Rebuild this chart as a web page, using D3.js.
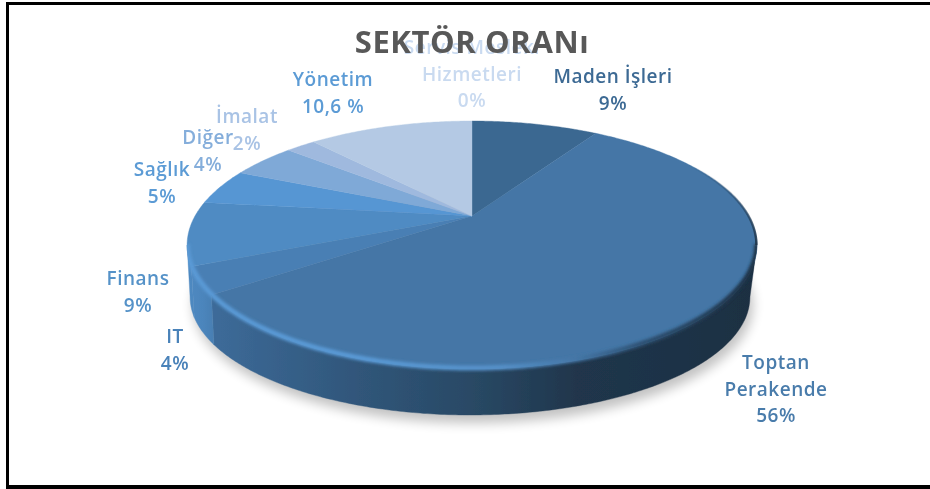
<!DOCTYPE html>
<html>
<head>
<meta charset="utf-8">
<script src="https://cdn.jsdelivr.net/npm/d3@7/dist/d3.min.js"></script>
<style>
  html, body { margin: 0; padding: 0; background: #fff; }
  svg { display: block; }
  text { font-family: "Open Sans", sans-serif; font-weight: 600; text-anchor: middle; }
</style>
</head>
<body>
<svg id="chart" width="930" height="489"></svg>
<script>
const chartTitle = 'SEKTÖR ORANı';
const sectors = ['Maden İşleri', 'Toptan Perakende', 'IT', 'Finans', 'Sağlık', 'Diğer', 'İmalat', 'Yönetim', 'Servis Mesleki Hizmetleri'];
// printed labels
const percentLabels = ['9%', '56%', '4%', '9%', '5%', '4%', '2%', '10,6 %', '0%'];
// slice widths as they appear in the picture (the printed ones do not quite match)
const shares = [9, 56.1, 3.5, 8.3, 4.7, 4.6, 2.1, 11.7, 0];

const sliceColors = ['#3b6791', '#4476a6', '#4a7fb4', '#4f8bc3', '#5796d3', '#7fa9d7', '#9fb9de', '#b4c9e4', '#ccdcf0'];
const labelColors = ['#3d6a94', '#4a7cab', '#4a82b9', '#5592c8', '#5b9bd5', '#85aedb', '#a9c3e5', '#5b9bd5', '#c9daf0'];

// label lines + baseline of first line, set by hand like the original
const labelLayout = [
  { lines: ['Maden İşleri'], x: 613, y: 83 },
  { lines: ['Toptan', 'Perakende'], x: 776, y: 369 },
  { lines: ['IT'], x: 175, y: 343 },
  { lines: ['Finans'], x: 138, y: 285 },
  { lines: ['Sağlık'], x: 162, y: 176 },
  { lines: ['Diğer'], x: 208, y: 144 },
  { lines: ['İmalat'], x: 247, y: 123 },
  { lines: ['Yönetim'], x: 333, y: 86 },
  { lines: ['Servis Mesleki', 'Hizmetleri'], x: 472, y: 54 }
];
const lineStep = 26.5;

const svg = d3.select('#chart');
const defs = svg.append('defs');

defs.append('filter').attr('id', 'soft')
  .attr('x', '-2%').attr('y', '-2%').attr('width', '104%').attr('height', '104%')
  .append('feGaussianBlur').attr('stdDeviation', 0.45);
defs.append('filter').attr('id', 'shadowBlur')
  .attr('x', '-10%').attr('y', '-20%').attr('width', '120%').attr('height', '140%')
  .append('feGaussianBlur').attr('stdDeviation', 6);
defs.append('filter').attr('id', 'bevelBlur')
  .attr('x', '-10%').attr('y', '-20%').attr('width', '120%').attr('height', '140%')
  .append('feGaussianBlur').attr('stdDeviation', 1.8);

function hGrad(id, stops) {
  const g = defs.append('linearGradient').attr('id', id)
    .attr('gradientUnits', 'userSpaceOnUse')
    .attr('x1', 186).attr('x2', 759).attr('y1', 0).attr('y2', 0);
  stops.forEach(s => g.append('stop').attr('offset', s[0]).attr('stop-color', s[1]));
}
hGrad('sideToptan', [[0, '#3f70a0'], [0.1, '#3a6692'], [0.3, '#30567a'], [0.5, '#294965'], [0.68, '#20364c'], [1, '#1c2f42']]);
hGrad('sideRest', [[0, '#4f8ac2'], [0.03, '#4c85bc'], [0.06, '#447aac']]);
hGrad('bevel', [[0, '#5a9ad6'], [0.3, '#5a9ad6'], [0.55, '#5590c8'], [0.68, '#4476a6'], [0.8, '#2c4f70'], [1, '#1c2f42']]);

// fades the dark rim in along the upper right edge
const fade = defs.append('linearGradient').attr('id', 'rimFade')
  .attr('gradientUnits', 'userSpaceOnUse')
  .attr('x1', 0).attr('x2', 0).attr('y1', 165).attr('y2', 245);
fade.append('stop').attr('offset', 0).attr('stop-color', '#1c2f42').attr('stop-opacity', 0);
fade.append('stop').attr('offset', 1).attr('stop-color', '#1c2f42').attr('stop-opacity', 0.85);

// the disc is seen in perspective: hub sits above the middle of the ellipse
const hubX = 472, hubY = 216;
const persp = -0.234, scaleX = 277, scaleY = 117.2;
function topPoint(a) {
  const X = Math.sin(a), Y = -Math.cos(a), w = 1 + persp * Y;
  return [hubX + scaleX * X / w, hubY + scaleY * Y / w];
}
// underside is a smaller ellipse lower down
function bottomPoint(a) {
  const p = topPoint(a);
  return [470 + (p[0] - hubX) * 281 / 286, 297 + (p[1] - 245) * 118 / 124];
}
const edgeA = Math.acos(persp), edgeB = 2 * Math.PI - edgeA; // silhouette of the disc

const line = d3.line();
function arcAngles(a0, a1) {
  const n = Math.max(2, Math.ceil((a1 - a0) / 0.01));
  return d3.range(n + 1).map(i => a0 + (a1 - a0) * i / n);
}

const arcs = d3.pie().sort(null).value(d => d.share)(
  sectors.map((name, i) => ({ name, share: shares[i], color: sliceColors[i] }))
);

const root = svg.append('g').attr('filter', 'url(#soft)');

root.append('rect').attr('width', 930).attr('height', 489).attr('fill', '#fff');

// frame
root.append('path')
  .attr('d', 'M7.5,489 V3.5 H930')
  .attr('fill', 'none').attr('stroke', '#000').attr('stroke-width', 3);
root.append('line')
  .attr('x1', 7).attr('x2', 930).attr('y1', 487).attr('y2', 487)
  .attr('stroke', '#000').attr('stroke-width', 4);

// shadow under the disc
root.append('path')
  .attr('d', line(arcAngles(0, 2 * Math.PI).map(bottomPoint)) + 'Z')
  .attr('transform', 'translate(3,8)')
  .attr('fill', '#000').attr('opacity', 0.24)
  .attr('filter', 'url(#shadowBlur)');

// side wall, only the front part shows
root.append('g').selectAll('path')
  .data(arcs.filter(d => d.endAngle > edgeA && d.startAngle < edgeB && d.value > 0))
  .join('path')
  .attr('d', d => {
    const as = arcAngles(Math.max(d.startAngle, edgeA), Math.min(d.endAngle, edgeB));
    return line(as.map(topPoint).concat(as.slice().reverse().map(bottomPoint))) + 'Z';
  })
  .attr('fill', d => d.data.name === 'Toptan Perakende' ? 'url(#sideToptan)' : 'url(#sideRest)')
  .attr('stroke', d => d.data.name === 'Toptan Perakende' ? 'url(#sideToptan)' : 'url(#sideRest)')
  .attr('stroke-width', 0.4);

// top face
root.append('g').selectAll('path')
  .data(arcs.filter(d => d.value > 0))
  .join('path')
  .attr('d', d => line([[hubX, hubY]].concat(arcAngles(d.startAngle, d.endAngle).map(topPoint))) + 'Z')
  .attr('fill', d => d.data.color)
  .attr('stroke', d => d.data.color)
  .attr('stroke-width', 0.4);

// rounded rim on the front edge, kept inside the silhouette
const rimClip = defs.append('clipPath').attr('id', 'rimClip');
rimClip.append('path')
  .attr('d', line(arcAngles(edgeA, edgeB).map(topPoint).concat(arcAngles(edgeA, edgeB).reverse().map(bottomPoint))) + 'Z');
rimClip.append('path')
  .attr('d', line(arcAngles(0, 2 * Math.PI).map(topPoint)) + 'Z');
root.append('g').attr('clip-path', 'url(#rimClip)')
  .append('path')
  .attr('d', line(arcAngles(edgeA, edgeB).map(topPoint).map(p => [p[0], p[1] - 1])))
  .attr('fill', 'none')
  .attr('stroke', 'url(#bevel)')
  .attr('stroke-width', 5)
  .attr('filter', 'url(#bevelBlur)');
root.append('path')
  .attr('d', line(arcAngles(0.9, edgeA).map(topPoint).map(p => [p[0] - 0.5, p[1]])))
  .attr('fill', 'none')
  .attr('stroke', 'url(#rimFade)')
  .attr('stroke-width', 2.5);

// labels
const labelG = root.append('g').selectAll('text')
  .data(labelLayout)
  .join('text')
  .attr('font-size', 19)
  .attr('letter-spacing', 0.5)
  .attr('fill', (d, i) => labelColors[i]);
labelG.each(function (d, i) {
  const t = d3.select(this);
  d.lines.concat(percentLabels[i]).forEach((s, j) => {
    t.append('tspan').attr('x', d.x).attr('y', d.y + j * lineStep).text(s);
  });
});

// title goes over the labels
root.append('text')
  .attr('x', 472).attr('y', 53)
  .attr('font-size', 31)
  .attr('letter-spacing', 0.6)
  .style('font-weight', 700)
  .attr('fill', '#595959')
  .text(chartTitle);
</script>
</body>
</html>
